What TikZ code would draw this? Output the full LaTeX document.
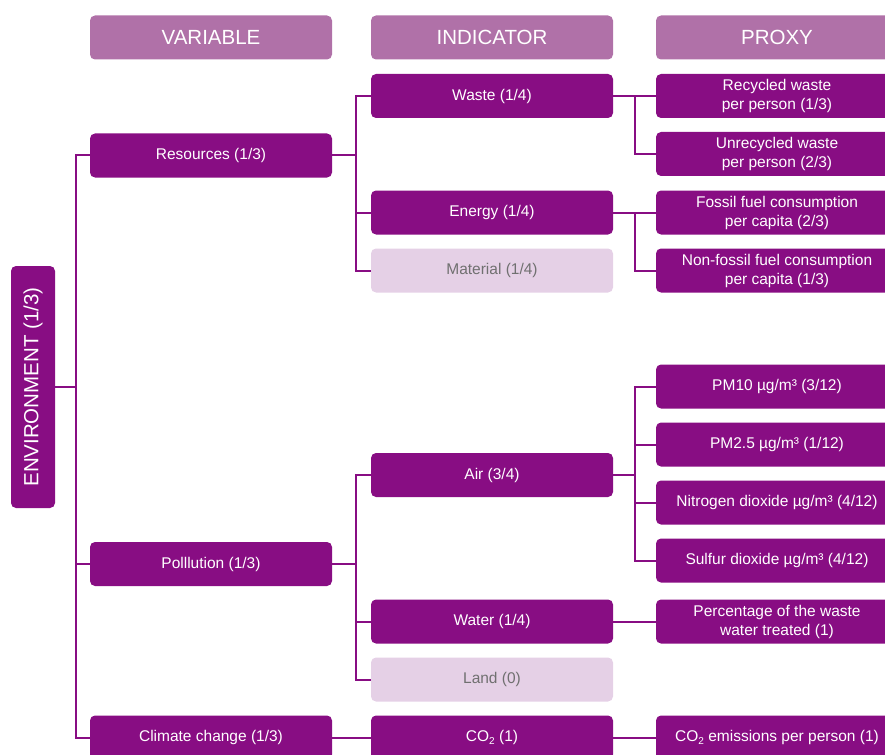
\documentclass[tikz,border=0pt]{standalone}
\usepackage{fontspec}
\setmainfont{Liberation Sans}

\definecolor{deeppurple}{RGB}{136,13,131}
\definecolor{headpurple}{RGB}{176,113,168}
\definecolor{palepurple}{RGB}{229,208,230}
\definecolor{palegray}{RGB}{112,112,112}

\newcommand{\lowtwo}{\raisebox{-0.45ex}{\fontsize{10}{10}\selectfont 2}}

\begin{document}
\begin{tikzpicture}[x=1pt,y=-1pt,
  box/.style={fill=deeppurple, text=white, rounded corners=5pt,
    minimum width=242pt, minimum height=44pt, inner sep=0pt,
    align=center, font=\fontsize{15.5}{19}\selectfont},
  headbox/.style={box, fill=headpurple, font=\fontsize{20.5}{24}\selectfont},
  unusedbox/.style={box, fill=palepurple, text=palegray},
  link/.style={draw=deeppurple, line width=2pt}]
  \def\xv{211}
  \def\xi{492}
  \def\xp{777}

  \useasboundingbox (0,0) rectangle (885,754);
  \clip (0,0) rectangle (885,754);

  % column heads
  \node[headbox] (hvar) at (\xv,37.5) {VARIABLE};
  \node[headbox] (hind) at (\xi,37.5) {INDICATOR};
  \node[headbox] (hprox) at (\xp,37.5) {PROXY};

  % root
  \node[box, rotate=90, font=\fontsize{20.5}{24}\selectfont] (env) at (33,387) {ENVIRONMENT (1/3)};

  % variables
  \node[box] (res) at (\xv,155.5) {Resources (1/3)};
  \node[box] (pol) at (\xv,564) {Polllution (1/3)};
  \node[box] (clim) at (\xv,737.5) {Climate change (1/3)};

  % indicators
  \node[box] (waste) at (\xi,96) {Waste (1/4)};
  \node[box] (energy) at (\xi,212.5) {Energy (1/4)};
  \node[unusedbox] (mat) at (\xi,270.5) {Material (1/4)};
  \node[box] (air) at (\xi,475) {Air (3/4)};
  \node[box] (water) at (\xi,621.5) {Water (1/4)};
  \node[unusedbox] (land) at (\xi,679.5) {Land (0)};
  \node[box] (co2) at (\xi,737.5) {CO\lowtwo{} (1)};

  % proxies
  \node[box] (rec) at (\xp,96) {Recycled waste\\per person (1/3)};
  \node[box] (unrec) at (\xp,154) {Unrecycled waste\\per person (2/3)};
  \node[box] (fossil) at (\xp,212.5) {Fossil fuel consumption\\per capita (2/3)};
  \node[box] (nonfossil) at (\xp,270.5) {Non-fossil fuel consumption\\per capita (1/3)};
  \node[box] (pmten) at (\xp,386.5) {PM10 µg/m³ (3/12)};
  \node[box] (pmtwo) at (\xp,444.5) {PM2.5 µg/m³ (1/12)};
  \node[box] (nitro) at (\xp,502.5) {Nitrogen dioxide µg/m³ (4/12)};
  \node[box] (sulf) at (\xp,560.5) {Sulfur dioxide µg/m³ (4/12)};
  \node[box] (perc) at (\xp,621.5) {Percentage of the waste\\water treated (1)};
  \node[box] (co2e) at (\xp,737.5) {CO\lowtwo{} emissions per person (1)};

  % root to variables
  \draw[link] (env.south) -- ++(22,0);
  \draw[link] (res.west) -- ++(-14,0) |- (clim.west);
  \draw[link] (pol.west) -- ++(-14,0);

  % variables to indicators
  \draw[link] (res.east) -- ++(24,0);
  \draw[link] (waste.west) -- ++(-15,0) |- (mat.west);
  \draw[link] (energy.west) -- ++(-15,0);
  \draw[link] (pol.east) -- ++(24,0);
  \draw[link] (air.west) -- ++(-15,0) |- (land.west);
  \draw[link] (water.west) -- ++(-15,0);
  \draw[link] (clim.east) -- (co2.west);

  % indicators to proxies
  \draw[link] (waste.east) -- (rec.west);
  \draw[link] (rec.west) -- ++(-21,0) |- (unrec.west);
  \draw[link] (energy.east) -- (fossil.west);
  \draw[link] (fossil.west) -- ++(-21,0) |- (nonfossil.west);
  \draw[link] (air.east) -- ++(22,0);
  \draw[link] (pmten.west) -- ++(-21,0) |- (sulf.west);
  \draw[link] (pmtwo.west) -- ++(-21,0);
  \draw[link] (nitro.west) -- ++(-21,0);
  \draw[link] (water.east) -- (perc.west);
  \draw[link] (co2.east) -- (co2e.west);
\end{tikzpicture}
\end{document}
